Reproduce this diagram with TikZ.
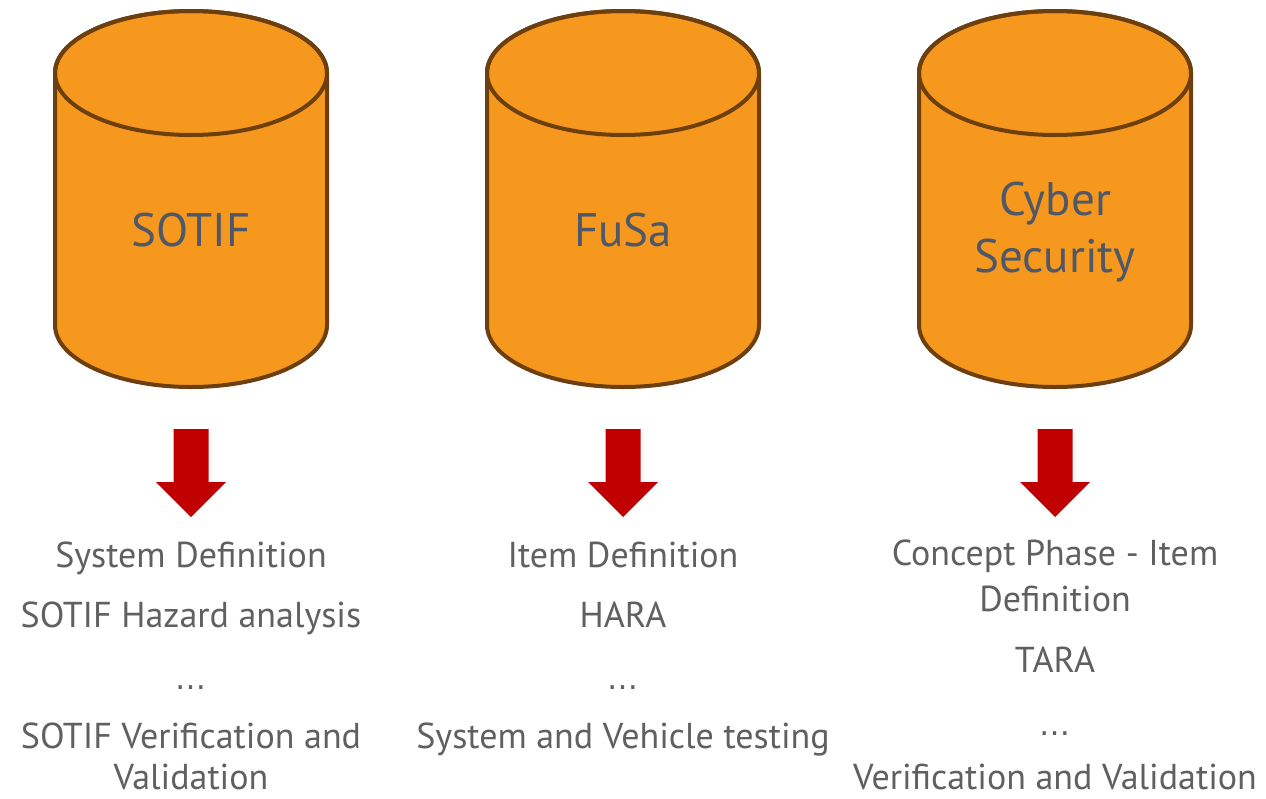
\documentclass[tikz,border=0pt]{standalone}
\usepackage{fontspec}
\setmainfont{PT Sans}
\newfontfamily\dvsfont{DejaVu Sans}
\definecolor{cylfill}{HTML}{F7981E}
\definecolor{cylline}{HTML}{6C3F0C}
\definecolor{cyltext}{HTML}{4E5866}
\definecolor{lowtext}{HTML}{606060}
\definecolor{arrred}{HTML}{C00000}
\newcommand{\wdots}{{\dvsfont\fontsize{31}{36}\selectfont …}}
\begin{document}
\begin{tikzpicture}[x=1pt,y=-1pt,
  cyl/.style={fill=cylfill,draw=cylline,line width=4pt,line join=round},
  cyllabel/.style={text=cyltext,font=\fontsize{47}{57}\selectfont,anchor=base,inner sep=0pt},
  lowlabel/.style={text=lowtext,font=\fontsize{36}{45}\selectfont,anchor=base,inner sep=0pt},
  blockarrow/.style={fill=arrred,draw=none}]
\useasboundingbox (0,0) rectangle (1266,798);
\fill[white] (0,0) rectangle (1266,798);
\foreach \cx/\nm in {191/a,623/b,1055/c}{
  \path[cyl] (\cx-136,73) -- (\cx-136,325)
    arc[start angle=180,end angle=360,x radius=136pt,y radius=62pt]
    -- (\cx+136,73)
    arc[start angle=0,end angle=180,x radius=136pt,y radius=62pt] -- cycle;
  \draw[cylline,line width=4pt] (\cx,73) ellipse [x radius=136pt,y radius=62pt];
  \coordinate (arr\nm) at (\cx,429);
  \fill[blockarrow] (arr\nm) ++(-17.5,0) -- ++(35,0) -- ++(0,53) -- ++(17.5,0)
    -- (\cx,517) -- (\cx-35,482) -- (\cx-17.5,482) -- cycle;
}
\node[cyllabel] (t1) at (191,246) {SOTIF};
\node[cyllabel] (t2) at (623,246) {FuSa};
\node[cyllabel] (t3a) at (1055,215) {Cyber};
\node[cyllabel] (t3b) at (1055,272) {Security};

\node[lowlabel] (a1) at (191,567) {System Definition};
\node[lowlabel] (a2) at (191,627) {SOTIF Hazard analysis};
\node[lowlabel] (a3) at (191,689) {\wdots};
\node[lowlabel] (a4a) at (191,748) {SOTIF Verification and};
\node[lowlabel] (a4b) at (191,789) {Validation};

\node[lowlabel] (b1) at (623,567) {Item Definition};
\node[lowlabel] (b2) at (623,627) {HARA};
\node[lowlabel] (b3) at (623,689) {\wdots};
\node[lowlabel] (b4) at (623,748) {System and Vehicle testing};

\node[lowlabel] (c1a) at (1055,565) {Concept Phase - Item};
\node[lowlabel] (c1b) at (1055,611) {Definition};
\node[lowlabel] (c2) at (1055,672) {TARA};
\node[lowlabel] (c3) at (1055,735) {\wdots};
\node[lowlabel] (c4) at (1055,789) {Verification and Validation};
\end{tikzpicture}
\end{document}
